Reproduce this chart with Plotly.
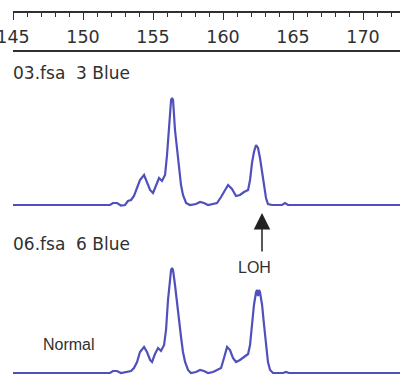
import plotly.graph_objects as go

# Fragment size (bp) and peak intensity (arbitrary RFU) for the two samples
size_03 = [145.0, 151.93, 152.14, 152.43, 152.71, 153.0, 153.21, 153.43, 153.64, 153.86,
           154.07, 154.36, 154.57, 154.79, 155.0, 155.21, 155.43, 155.64, 155.86, 156.0,
           156.14, 156.29, 156.36, 156.43, 156.57, 156.71, 156.86, 157.0, 157.14, 157.36,
           157.64, 158.07, 158.36, 158.64, 158.93, 159.29, 159.57, 159.86, 160.14, 160.36,
           160.64, 160.93, 161.21, 161.5, 161.79, 161.93, 162.07, 162.21, 162.36, 162.5,
           162.64, 162.79, 162.93, 163.07, 163.21, 163.5, 164.21, 164.43, 164.64, 172.64]
rfu_03 = [0, 0, 20, 20, -5, 0, 40, 50, 90, 170,
          250, 300, 230, 150, 120, 200, 270, 240, 300, 500,
          750, 1050, 1070, 1050, 750, 550, 400, 200, 100, 20,
          0, 10, 30, 20, 0, 10, 20, 80, 150, 200,
          160, 90, 100, 130, 150, 250, 420, 530, 600, 570,
          470, 330, 170, 70, 10, 0, 0, 20, 0, 0]

size_06 = [145.0, 151.93, 152.14, 152.43, 152.71, 153.14, 153.43, 153.64, 153.86, 154.07,
           154.36, 154.57, 154.79, 154.93, 155.14, 155.36, 155.57, 155.79, 155.93, 156.07,
           156.21, 156.29, 156.36, 156.43, 156.57, 156.71, 156.86, 157.0, 157.14, 157.29,
           157.5, 157.71, 158.07, 158.36, 158.64, 158.93, 159.29, 159.57, 159.86, 160.07,
           160.29, 160.5, 160.71, 160.93, 161.21, 161.5, 161.79, 161.93, 162.07, 162.21,
           162.36, 162.43, 162.5, 162.57, 162.64, 162.79, 162.93, 163.07, 163.21, 163.36,
           163.57, 164.29, 164.5, 164.71, 172.64]
rfu_06 = [0, 0, 20, 20, 0, 10, 20, 50, 110, 210,
          260, 210, 130, 110, 190, 250, 220, 280, 430, 730,
          930, 1030, 1050, 1030, 880, 680, 530, 360, 210, 110,
          30, 0, 10, 30, 20, 0, 10, 30, 50, 150,
          260, 230, 150, 110, 130, 160, 190, 280, 480, 680,
          810, 830, 770, 830, 810, 680, 480, 280, 110, 30,
          0, 0, 10, 0, 0]

panel_labels = ["03.fsa\u00a0\u00a03 Blue", "06.fsa\u00a0\u00a06 Blue"]
x_range = [145.0, 172.64]
tick_vals = [145, 150, 155, 160, 165, 170]

W, H = 400, 381
def py(pix):  # pixel row -> paper fraction
    return (H - pix) / H

trace_color = "#5050bc"
ink = "#303030"

fig = go.Figure()
fig.add_trace(go.Scatter(x=size_03, y=rfu_03, mode="lines", xaxis="x", yaxis="y",
                         line=dict(color=trace_color, width=2.2), hoverinfo="skip"))
fig.add_trace(go.Scatter(x=size_06, y=rfu_06, mode="lines", xaxis="x", yaxis="y2",
                         line=dict(color=trace_color, width=2.2), hoverinfo="skip"))

fig.update_layout(
    width=W, height=H, margin=dict(l=0, r=0, t=0, b=0, autoexpand=False),
    paper_bgcolor="white", plot_bgcolor="white", showlegend=False,
    xaxis=dict(domain=[13 / W, 1], range=x_range, anchor="free", position=py(12),
               side="bottom", showgrid=False, zeroline=False, automargin=False,
               showline=True, linecolor=ink, linewidth=2,
               tickmode="array", tickvals=tick_vals, ticks="outside", ticklen=7,
               tickwidth=1.3, tickcolor=ink, ticklabeloverflow="allow",
               ticklabelstandoff=2,
               minor=dict(dtick=1, ticks="outside", ticklen=4, tickwidth=1.3, tickcolor=ink,
                          showgrid=False),
               tickfont=dict(family="DejaVu Sans", size=17.5, color=ink)),
    xaxis2=dict(domain=[13 / W, 1], range=x_range, matches="x", overlaying="x",
                anchor="free", position=py(51), showline=True, linecolor=ink,
                automargin=False,
                linewidth=2.2, showticklabels=False, ticks="", showgrid=False, zeroline=False),
    yaxis=dict(domain=[py(210), py(95)], range=[-50, 1100], anchor="x", visible=False,
               automargin=False),
    yaxis2=dict(domain=[py(378), py(263)], range=[-50, 1100], anchor="x", visible=False,
                automargin=False),
)
# invisible helper so xaxis2 is drawn
fig.add_trace(go.Scatter(x=[x_range[0]], y=[0], xaxis="x2", yaxis="y", mode="markers",
                         marker=dict(opacity=0), hoverinfo="skip"))

label_font = dict(family="DejaVu Sans", size=17, color=ink)
fig.add_annotation(text=panel_labels[0], xref="paper", yref="paper", x=11 / W, y=py(73),
                   xanchor="left", yanchor="middle", showarrow=False, font=label_font)
fig.add_annotation(text=panel_labels[1], xref="paper", yref="paper", x=11 / W, y=py(244),
                   xanchor="left", yanchor="middle", showarrow=False, font=label_font)
fig.add_annotation(text="Normal", xref="paper", yref="paper", x=69 / W, y=py(344),
                   xanchor="center", yanchor="middle", showarrow=False,
                   font=dict(family="Liberation Sans", size=16, color=ink))
fig.add_annotation(text="LOH", xref="paper", yref="paper", x=255 / W, y=py(267),
                   xanchor="center", yanchor="middle", showarrow=False,
                   font=dict(family="Liberation Sans", size=16, color=ink))
fig.add_annotation(text="", xref="paper", yref="paper", x=262 / W, y=py(213),
                   showarrow=True, axref="pixel", ayref="pixel", ax=0, ay=40,
                   arrowhead=2, arrowsize=2.2, arrowwidth=1.5, arrowcolor="#222222")

fig.write_html("out.html")
